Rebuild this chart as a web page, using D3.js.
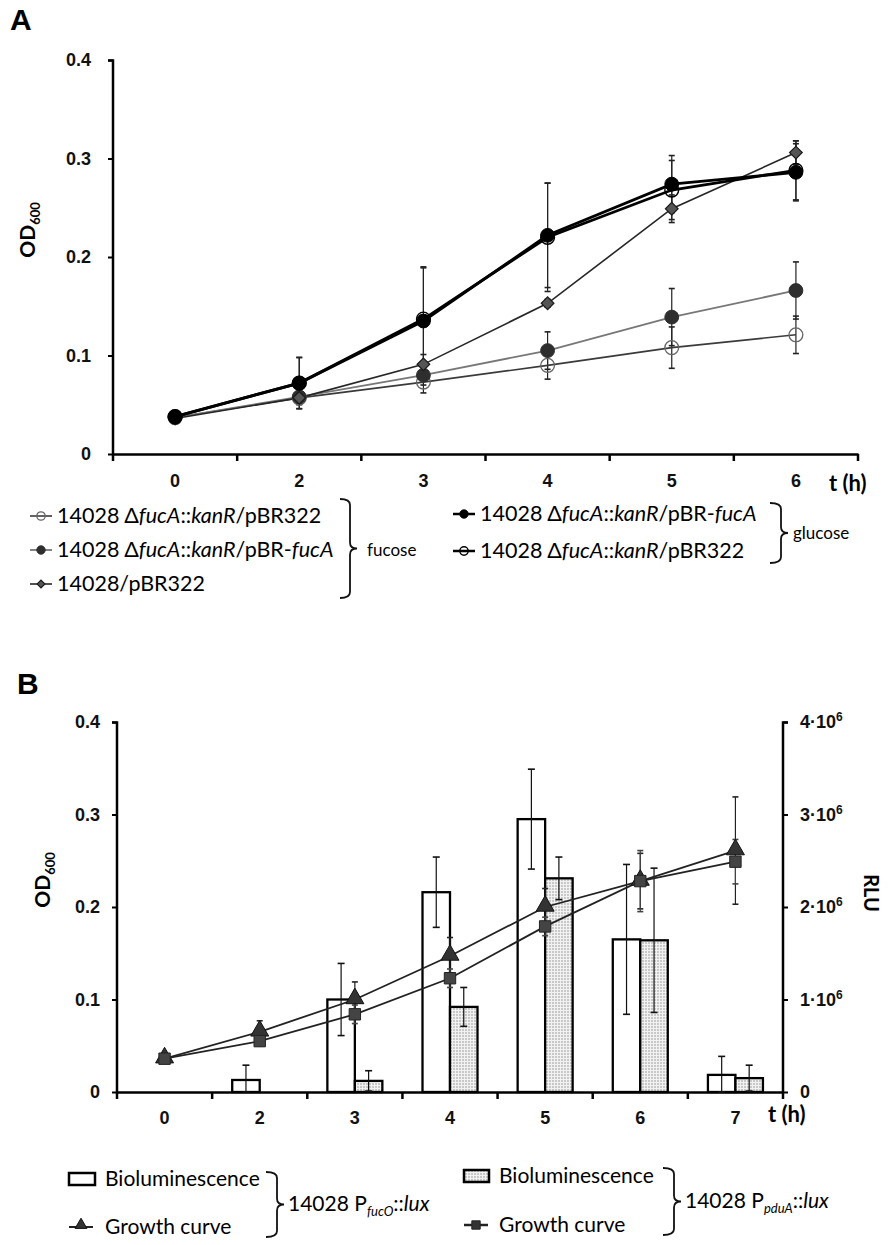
<!DOCTYPE html>
<html><head><meta charset="utf-8">
<script src="https://cdn.jsdelivr.net/npm/d3@7"></script>
<style>
body{margin:0;background:#fff;}
svg{display:block;font-family:Lato,"Open Sans",sans-serif;}
</style></head>
<body>
<svg id="c" width="892" height="1245"></svg>
<script>
// ---------- Panel A data ----------
const timesA = ["0","2","3","4","5","6"];
const fucPBR322   = [0.037,0.057,0.073,0.090,0.108,0.121];
const fucPBR322Err= [0.002,0.006,0.011,0.014,0.021,0.019];
const fucPBRfucA   = [0.037,0.058,0.080,0.105,0.139,0.166];
const fucPBRfucAErr= [0.002,0.008,0.010,0.019,0.029,0.029];
const wtPBR322   = [0.036,0.057,0.091,0.153,0.249,0.306];
const wtPBR322Err= [0.002,0.006,0.010,0.004,0.014,0.012];
const gluPBRfucA   = [0.038,0.072,0.135,0.222,0.274,0.286];
const gluPBRfucAErr= [0.002,0.026,0.055,0.053,0.029,0.029];
const gluPBR322   = [0.038,0.072,0.137,0.220,0.268,0.288];
const gluPBR322Err= [0.002,0.026,0.052,0.055,0.030,0.030];
const yTicksA = [0,0.1,0.2,0.3,0.4];

// ---------- Panel B data ----------
const timesB = ["0","2","3","4","5","6","7"];
const fucOLum    = [0,0.13e6,1.00e6,2.16e6,2.95e6,1.65e6,0.185e6];
const fucOLumErr = [0,0.16e6,0.39e6,0.38e6,0.54e6,0.81e6,0.20e6];
const pduALum    = [0,0,0.12e6,0.92e6,2.31e6,1.64e6,0.15e6];
const pduALumErr = [0,0,0.11e6,0.21e6,0.23e6,0.78e6,0.14e6];
const fucOOD    = [0.036,0.065,0.100,0.147,0.200,0.228,0.261];
const fucOODErr = [0.002,0.012,0.019,0.020,0.020,0.030,0.058];
const pduAOD    = [0.036,0.055,0.084,0.123,0.179,0.228,0.249];
const pduAODErr = [0.002,0.005,0.010,0.010,0.010,0.033,0.024];
const yTicksB = [0,0.1,0.2,0.3,0.4];
const rTicksB = [0,1e6,2e6,3e6,4e6];

const svg = d3.select("#c");
const defs = svg.append("defs");
const pat = defs.append("pattern").attr("id","dots").attr("patternUnits","userSpaceOnUse")
  .attr("width",3).attr("height",3);
pat.append("rect").attr("width",3).attr("height",3).attr("fill","#f2f2f2");
pat.append("circle").attr("cx",1).attr("cy",1).attr("r",0.75).attr("fill","#8a8a8a");

const fmtY = d => d===0 ? "0" : d3.format(".1f")(d);

function odLabel(g, x, y){
  const t = g.append("text").attr("transform",`translate(${x},${y}) rotate(-90)`)
    .attr("text-anchor","middle").attr("font-size",21).attr("font-weight",700);
  t.append("tspan").text("OD");
  t.append("tspan").attr("font-size",13).attr("dy",5).text("600");
}

// ================= PANEL A =================
const gA = svg.append("g");
gA.append("text").attr("x",10).attr("y",30).attr("font-family","Liberation Sans, Arial, sans-serif")
  .attr("font-weight",700).attr("font-size",30).text("A");

const xA = d3.scaleBand().domain(timesA).range([113,858]);
const yA = d3.scaleLinear().domain([0,0.4]).range([454,60]);

const ayA = gA.append("g").attr("transform","translate(113,0)")
  .call(d3.axisLeft(yA).tickValues(yTicksA).tickFormat(fmtY).tickSize(5).tickPadding(17));
ayA.select(".domain").attr("stroke-width",2.5).attr("d","M-5,60.5H0V454");
ayA.selectAll(".tick line").attr("stroke-width",2);
ayA.selectAll(".tick text").attr("font-size",18).attr("font-weight",600).attr("fill","#111");
const axA = gA.append("g").attr("transform","translate(0,454)")
  .call(d3.axisBottom(xA).tickSize(0).tickPadding(20));
axA.select(".domain").attr("stroke-width",2.5);
axA.selectAll(".tick text").attr("font-size",18).attr("font-weight",600).attr("fill","#111");
d3.range(timesA.length+1).forEach(i=>{
  const xx = xA.range()[0] + i*xA.step();
  axA.append("line").attr("x1",xx).attr("x2",xx).attr("y1",0).attr("y2",7).attr("stroke","#000").attr("stroke-width",2.5);
});
gA.append("text").attr("x",829).attr("y",491).attr("font-size",22).attr("font-weight",700).text("t (h)");
odLabel(gA, 35, 230);

const seriesA = [
  {v:fucPBR322, e:fucPBR322Err, line:"#3a3a3a", lw:1.6, sym:"circle", fill:"none", stroke:"#666", sw:1.3},
  {v:fucPBRfucA, e:fucPBRfucAErr, line:"#777", lw:1.8, sym:"circle", fill:"#2e2e2e", stroke:"#2e2e2e", sw:1},
  {v:wtPBR322, e:wtPBR322Err, line:"#262626", lw:1.6, sym:"diamond", fill:"#555", stroke:"#1a1a1a", sw:1.2},
  {v:gluPBR322, e:gluPBR322Err, line:"#000", lw:2.8, sym:"circle", fill:"none", stroke:"#000", sw:1.4},
  {v:gluPBRfucA, e:gluPBRfucAErr, line:"#000", lw:2.8, sym:"circle", fill:"#000", stroke:"#000", sw:1}
];
const cxA = i => xA(timesA[i]) + xA.bandwidth()/2;
const lineA = d3.line().x((d,i)=>cxA(i)).y(d=>yA(d));

function errBars(g, xs, vals, errs, ys, color, w){
  vals.forEach((v,i)=>{
    if(!errs[i]) return;
    const x = xs(i), y1 = ys(v+errs[i]), y2 = ys(Math.max(0,v-errs[i]));
    g.append("line").attr("x1",x).attr("x2",x).attr("y1",y1).attr("y2",y2).attr("stroke",color).attr("stroke-width",1.2);
    [y1,y2].forEach(yy=>g.append("line").attr("x1",x-w).attr("x2",x+w).attr("y1",yy).attr("y2",yy).attr("stroke",color).attr("stroke-width",1.6));
  });
}
function marker(g, type, x, y, size, fill, stroke, sw){
  if(type==="circle"){
    g.append("circle").attr("cx",x).attr("cy",y).attr("r",Math.sqrt(size/Math.PI)).attr("fill",fill).attr("stroke",stroke).attr("stroke-width",sw);
  } else {
    const st = {diamond:d3.symbolSquare, triangle:d3.symbolTriangle, square:d3.symbolSquare}[type];
    g.append("path").attr("d",d3.symbol().type(st).size(size)())
      .attr("transform",`translate(${x},${y})` + (type==="diamond"?" rotate(45)":""))
      .attr("fill",fill).attr("stroke",stroke).attr("stroke-width",sw);
  }
}

seriesA.forEach(s=>errBars(gA, cxA, s.v, s.e, yA, "#222", 3));
seriesA.forEach(s=>{
  gA.append("path").attr("d",lineA(s.v)).attr("fill","none").attr("stroke",s.line).attr("stroke-width",s.lw);
});
seriesA.forEach(s=>{
  s.v.forEach((v,i)=>marker(gA, s.sym, cxA(i), yA(v), s.sym==="diamond"?80:150, s.fill, s.stroke, s.sw));
});

// legend A
const legA = [
  {s:seriesA[0], x:30, y:516, parts:[["14028 Δ",""],["fucA","i"],["::",""],["kanR","i"],["/pBR322",""]]},
  {s:seriesA[1], x:30, y:550, parts:[["14028 Δ",""],["fucA","i"],["::",""],["kanR","i"],["/pBR-",""],["fucA","i"]]},
  {s:seriesA[2], x:30, y:584, parts:[["14028/pBR322",""]]},
  {s:seriesA[4], x:453, y:514, parts:[["14028 Δ",""],["fucA","i"],["::",""],["kanR","i"],["/pBR-",""],["fucA","i"]]},
  {s:seriesA[3], x:453, y:551, parts:[["14028 Δ",""],["fucA","i"],["::",""],["kanR","i"],["/pBR322",""]]}
];
legA.forEach(L=>{
  gA.append("line").attr("x1",L.x).attr("x2",L.x+22).attr("y1",L.y).attr("y2",L.y).attr("stroke",L.s.line).attr("stroke-width",Math.min(L.s.lw,2.5));
  marker(gA, L.s.sym, L.x+11, L.y, L.s.sym==="diamond"?30:55, L.s.fill, L.s.stroke, L.s.sw);
  const t = gA.append("text").attr("x",L.x+27).attr("y",L.y+7).attr("font-size",21.5);
  L.parts.forEach(p=>t.append("tspan").attr("font-style",p[1]==="i"?"italic":"normal").text(p[0]));
});
function brace(g, x, y1, y2, dx){
  const m=(y1+y2)/2;
  g.append("path").attr("fill","none").attr("stroke","#111").attr("stroke-width",1.8)
    .attr("d",`M${x-dx},${y1} Q${x},${y1} ${x},${y1+6} L${x},${m-6} Q${x},${m} ${x+7},${m} Q${x},${m} ${x},${m+6} L${x},${y2-6} Q${x},${y2} ${x-dx},${y2}`);
}
brace(gA, 350, 499, 598, 10);
gA.append("text").attr("x",367).attr("y",556).attr("font-size",17).text("fucose");
brace(gA, 781, 503, 563, 11);
gA.append("text").attr("x",793).attr("y",539).attr("font-size",17).text("glucose");

// ================= PANEL B =================
const gB = svg.append("g");
gB.append("text").attr("x",17).attr("y",694).attr("font-family","Liberation Sans, Arial, sans-serif")
  .attr("font-weight",700).attr("font-size",30).text("B");

const xB = d3.scaleBand().domain(timesB).range([117,783]);
const yB = d3.scaleLinear().domain([0,0.4]).range([1092,722]);
const yR = d3.scaleLinear().domain([0,4e6]).range([1092,722]);
const inner = d3.scaleBand().domain(["fucO","pduA"]).range([0,55]);
const cxB = i => xB(timesB[i]) + xB.bandwidth()/2;

const ayB = gB.append("g").attr("transform","translate(117,0)")
  .call(d3.axisLeft(yB).tickValues(yTicksB).tickFormat(fmtY).tickSize(5).tickPadding(12));
ayB.select(".domain").attr("stroke-width",2.5).attr("d","M-5,722.5H0V1092");
ayB.selectAll(".tick line").attr("stroke-width",2);
ayB.selectAll(".tick text").attr("font-size",18).attr("font-weight",600).attr("fill","#111");

const arB = gB.append("g").attr("transform","translate(783,0)")
  .call(d3.axisRight(yR).tickValues(rTicksB).tickSize(5).tickPadding(12));
arB.select(".domain").attr("stroke-width",2.5).attr("d","M5,722.5H0V1092");
arB.selectAll(".tick line").attr("stroke-width",2);
arB.selectAll(".tick text").attr("font-size",18).attr("font-weight",600).attr("fill","#111").each(function(d){
  const t = d3.select(this); t.text(null);
  if(d===0){ t.text("0"); return; }
  t.append("tspan").text((d/1e6)+"·10");
  t.append("tspan").attr("font-size",12).attr("dy",-7).text("6");
});

const axB = gB.append("g").attr("transform","translate(0,1092)")
  .call(d3.axisBottom(xB).tickSize(0).tickPadding(19));
axB.select(".domain").attr("stroke-width",2.5);
axB.selectAll(".tick text").attr("font-size",18).attr("font-weight",600).attr("fill","#111");
d3.range(timesB.length+1).forEach(i=>{
  const xx = xB.range()[0] + i*xB.step();
  axB.append("line").attr("x1",xx).attr("x2",xx).attr("y1",0).attr("y2",7).attr("stroke","#000").attr("stroke-width",2.5);
});
gB.append("text").attr("x",768).attr("y",1122).attr("font-size",22).attr("font-weight",700).text("t (h)");
odLabel(gB, 50, 880);
gB.append("text").attr("transform","translate(864,893) rotate(90)").attr("text-anchor","middle")
  .attr("font-size",20).attr("font-weight",700).text("RLU");

// bars
const barX = (i,k) => cxB(i) - 27.5 + inner(k);
[["fucO",fucOLum,"#fff"],["pduA",pduALum,"url(#dots)"]].forEach(([k,vals,fill])=>{
  gB.selectAll(null).data(vals).join("rect")
    .attr("x",(d,i)=>barX(i,k)).attr("width",inner.bandwidth())
    .attr("y",d=>yR(d)).attr("height",d=>1092-yR(d))
    .attr("fill",fill).attr("stroke","#000").attr("stroke-width",2.3);
});
[["fucO",fucOLum,fucOLumErr],["pduA",pduALum,pduALumErr]].forEach(([k,vals,errs])=>{
  errBars(gB, i=>barX(i,k)+inner.bandwidth()/2, vals, errs, yR, "#111", 3.5);
});

// growth curves
const lineB = d3.line().x((d,i)=>cxB(i)).y(d=>yB(d));
errBars(gB, cxB, fucOOD, fucOODErr, yB, "#222", 3);
errBars(gB, cxB, pduAOD, pduAODErr, yB, "#444", 3);
gB.append("path").attr("d",lineB(fucOOD)).attr("fill","none").attr("stroke","#222").attr("stroke-width",1.8);
gB.append("path").attr("d",lineB(pduAOD)).attr("fill","none").attr("stroke","#222").attr("stroke-width",1.8);
fucOOD.forEach((v,i)=>marker(gB,"triangle",cxB(i),yB(v)-1,140,"#333","#111",1));
pduAOD.forEach((v,i)=>marker(gB,"square",cxB(i),yB(v),130,"#444","#222",1));

// legend B
function luxLabel(x,y,sub){
  const t = gB.append("text").attr("x",x).attr("y",y).attr("font-size",21);
  t.append("tspan").text("14028 P");
  t.append("tspan").attr("font-size",13).attr("font-style","italic").attr("dy",5).text(sub);
  t.append("tspan").attr("dy",-5).text("::");
  t.append("tspan").attr("font-style","italic").text("lux");
}
gB.append("rect").attr("x",69).attr("y",1173).attr("width",26).attr("height",12).attr("fill","#fff").attr("stroke","#000").attr("stroke-width",2.5);
gB.append("text").attr("x",105).attr("y",1186).attr("font-size",21).text("Bioluminescence");
gB.append("line").attr("x1",69).attr("x2",93).attr("y1",1227).attr("y2",1227).attr("stroke","#222").attr("stroke-width",2);
marker(gB,"triangle",81,1225,60,"#333","#111",1);
gB.append("text").attr("x",105).attr("y",1234).attr("font-size",21).text("Growth curve");
brace(gB, 277, 1172, 1237, 11);
luxLabel(288,1211,"fucO");
gB.append("rect").attr("x",464).attr("y",1170).attr("width",25).attr("height",12).attr("fill","url(#dots)").attr("stroke","#000").attr("stroke-width",2.5);
gB.append("text").attr("x",499).attr("y",1183).attr("font-size",21).text("Bioluminescence");
gB.append("line").attr("x1",464).attr("x2",488).attr("y1",1225).attr("y2",1225).attr("stroke","#222").attr("stroke-width",2.5);
marker(gB,"square",476,1225,70,"#333","#222",1);
gB.append("text").attr("x",499).attr("y",1232).attr("font-size",21).text("Growth curve");
brace(gB, 674, 1168, 1235, 11);
luxLabel(685,1208,"pduA");
</script>
</body></html>
